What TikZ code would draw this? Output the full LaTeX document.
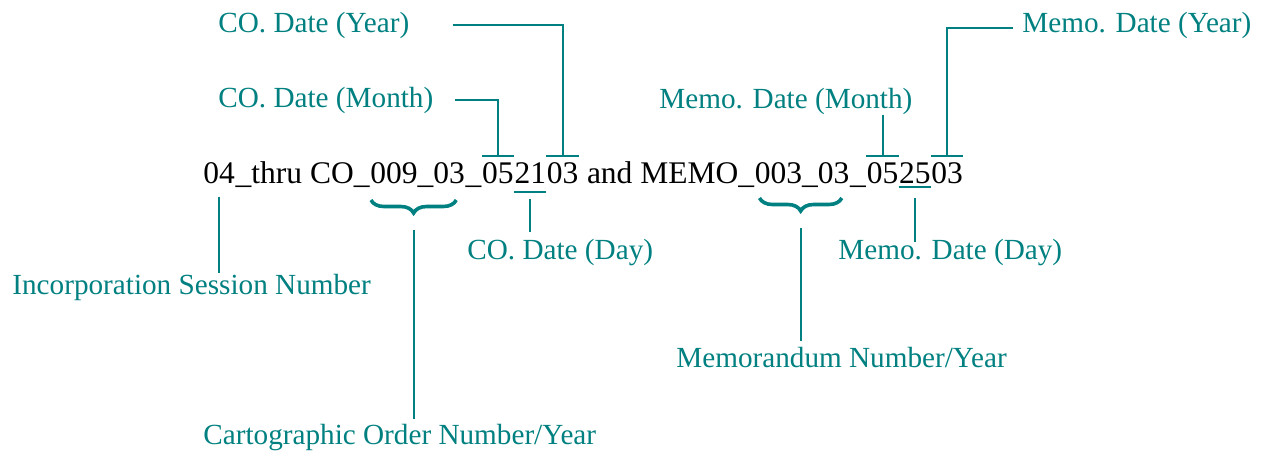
\documentclass[tikz,border=0pt]{standalone}
\usepackage{fontspec}
\setmainfont{Liberation Serif}
\usetikzlibrary{calc,decorations.pathreplacing}
\definecolor{labelteal}{RGB}{0,128,128}
\tikzset{
  seg/.style={inner sep=0pt,anchor=base west,font=\fontsize{15.75}{19}\selectfont},
  datebox/.style={seg,text height=13.5pt,text depth=0pt},
  lbl/.style={inner sep=0pt,anchor=base west,text=labelteal,font=\fontsize{14.6}{17}\selectfont},
  lead/.style={draw=labelteal,line width=1pt},
  brc/.style={draw=labelteal,line width=1.8pt,decorate,decoration={brace,mirror,amplitude=6.5pt}}
}

\begin{document}
\begin{tikzpicture}[x=0.5pt,y=-0.5pt]
      \useasboundingbox (0,0) rectangle (1265,451);
      \node[seg] (sess) at (203,183) {04};
      \node[seg] (pa) at (sess.base east) {\_thru CO\_};
      \node[seg] (coNum) at (pa.base east) {009\_03};
      \node[seg] (pb) at (coNum.base east) {\_};
      \node[datebox] (coMon) at (pb.base east) {05};
      \node[datebox,text depth=4.5pt] (coDay) at (coMon.base east) {21};
      \node[datebox] (coYear) at (coDay.base east) {03};
      \node[seg] (pc) at (coYear.base east) {\ and MEMO\_};
      \node[seg] (mNum) at (pc.base east) {003\_03};
      \node[seg] (pd) at (mNum.base east) {\_};
      \node[datebox] (mMon) at (pd.base east) {05};
      \node[datebox,text depth=2pt] (mDay) at (mMon.base east) {25};
      \node[datebox] (mYear) at (mDay.base east) {03};
      \node[lbl] (coYearLbl) at (218,32) {CO. Date (Year)};
      \node[lbl] (coMonLbl) at (218,107) {CO. Date (Month)};
      \node[lbl] (coDayLbl) at (467,259) {CO. Date (Day)};
      \node[lbl] (mYearLbl) at (1022,32) {Memo. Date (Year)};
      \node[lbl] (mMonLbl) at (659,108) {Memo. Date (Month)};
      \node[lbl] (mDayLbl) at (838,259) {Memo. Date (Day)};
      \node[lbl] (incLbl) at (12,294) {Incorporation Session Number};
      \node[lbl] (cartoLbl) at (203,444) {Cartographic Order Number/Year};
      \node[lbl] (memoLbl) at (676,367) {Memorandum Number/Year};
      \draw[lead] (coMon.north west) -- (coMon.north east);
      \draw[lead] (coYear.north west) -- (coYear.north east);
      \draw[lead] (coDay.south west) -- (coDay.south east);
      \draw[lead] (mMon.north west) -- (mMon.north east);
      \draw[lead] (mYear.north west) -- (mYear.north east);
      \draw[lead] (mDay.south west) -- (mDay.south east);
      \draw[lead] ([xshift=21.5pt]coYearLbl.east) -| (coYear.north);
      \draw[lead] ([xshift=10.5pt]coMonLbl.east) -| (coMon.north);
      \draw[lead] ([xshift=-4.5pt,yshift=-1.5pt]mYearLbl.west) -| (mYear.north);
      \draw[lead] (mMonLbl.south -| mMon.north) -- (mMon.north);
      \draw[lead] ([yshift=-3.5pt]coDay.south) -- ([yshift=3pt]coDay.south |- coDayLbl.north);
      \draw[lead] ([yshift=-5.5pt]mDay.south) -- ([yshift=-2pt]mDay.south |- mDayLbl.north);
      \draw[lead] ([yshift=-6.5pt]sess.south) -- (sess.south |- incLbl.north);
      \coordinate (coBrL) at ([xshift=0.5pt,yshift=-8.5pt]coNum.base west);
      \coordinate (coBrR) at ([xshift=-4.5pt,yshift=-8.5pt]coNum.base east);
      \coordinate (mBrL) at ([xshift=2.5pt,yshift=-7.5pt]mNum.base west);
      \coordinate (mBrR) at ([xshift=-4pt,yshift=-7.5pt]mNum.base east);
      \draw[brc] (coBrL) -- (coBrR);
      \draw[brc] (mBrL) -- (mBrR);
      \coordinate (coBrM) at ($(coBrL)!0.5!(coBrR)$);
      \coordinate (mBrM) at ($(mBrL)!0.5!(mBrR)$);
      \draw[lead] ([yshift=-15pt]coBrM) -- ([yshift=2pt]coBrM |- cartoLbl.north);
      \draw[lead] ([yshift=-15pt]mBrM) -- ([yshift=2.5pt]mBrM |- memoLbl.north);
    \end{tikzpicture}
\end{document}
